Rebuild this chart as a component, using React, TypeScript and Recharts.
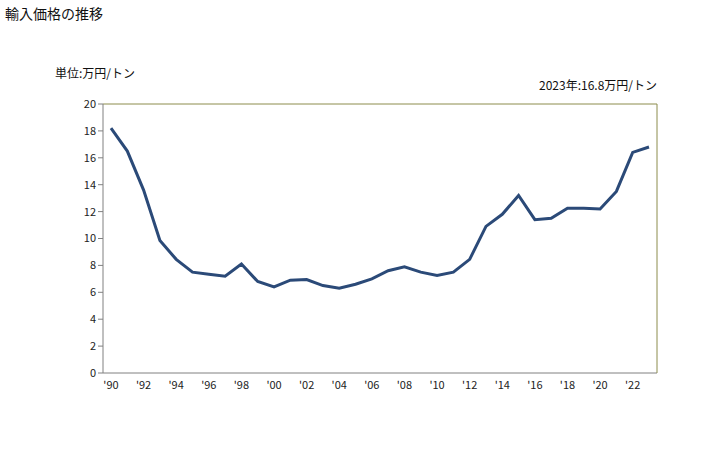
import React from 'react';
import { LineChart, Line, XAxis, YAxis } from 'recharts';

const years = [
  1990, 1991, 1992, 1993, 1994, 1995, 1996, 1997, 1998, 1999,
  2000, 2001, 2002, 2003, 2004, 2005, 2006, 2007, 2008, 2009,
  2010, 2011, 2012, 2013, 2014, 2015, 2016, 2017, 2018, 2019,
  2020, 2021, 2022, 2023,
];
const prices = [
  18.2, 16.5, 13.6, 9.85, 8.45, 7.5, 7.35, 7.2, 8.1, 6.8,
  6.4, 6.9, 6.95, 6.5, 6.3, 6.6, 7.0, 7.6, 7.9, 7.5,
  7.25, 7.5, 8.45, 10.9, 11.8, 13.2, 11.4, 11.5, 12.25, 12.25,
  12.2, 13.5, 16.4, 16.8,
];
const yTicks = [0, 2, 4, 6, 8, 10, 12, 14, 16, 18, 20];

const data = years.map((y, i) => ({ year: y, value: prices[i] }));

const fmtYear = (y: number) => (y % 2 === 0 ? "'" + String(y).slice(2) : '');

const font = '"Noto Sans CJK JP", "Noto Sans", sans-serif';

export default function App() {
  return (
    <div style={{ position: 'absolute', left: 0, top: 0, width: 728, height: 450, background: '#fff', fontFamily: font }}>
      <div style={{ position: 'absolute', left: 5, top: 3, fontSize: 14, color: '#111' }}>輸入価格の推移</div>
      <div style={{ position: 'absolute', left: 55, top: 64, fontSize: 12, color: '#111' }}>単位:万円/トン</div>
      <div style={{ position: 'absolute', right: 728 - 657, top: 76, fontSize: 12, color: '#111' }}>2023年:16.8万円/トン</div>
      <LineChart
        width={728}
        height={450}
        data={data}
        margin={{ top: 103, right: 70, bottom: 57, left: 63 }}
      >
        <XAxis
          dataKey="year"
          xAxisId="bottom"
          interval={0}
          padding={{ left: 8, right: 8 }}
          tickFormatter={fmtYear}
          tickLine={false}
          axisLine={{ stroke: '#808080', strokeWidth: 1 }}
          tick={{ fontSize: 11, fill: '#222', fontFamily: font }}
          height={20}
        />
        <XAxis
          dataKey="year"
          xAxisId="top"
          orientation="top"
          padding={{ left: 8, right: 8 }}
          tick={false}
          tickLine={false}
          axisLine={{ stroke: '#8C8C4C', strokeWidth: 1 }}
          height={1}
        />
        <YAxis
          yAxisId="left"
          domain={[0, 20]}
          ticks={yTicks}
          interval={0}
          tickSize={5}
          tickLine={{ stroke: '#808080' }}
          axisLine={{ stroke: '#808080', strokeWidth: 1 }}
          tick={{ fontSize: 11, fill: '#222', fontFamily: font }}
          width={40}
        />
        <YAxis
          yAxisId="right"
          orientation="right"
          domain={[0, 20]}
          tick={false}
          tickLine={false}
          axisLine={{ stroke: '#8C8C4C', strokeWidth: 1 }}
          width={1}
        />
        <Line
          xAxisId="bottom"
          yAxisId="left"
          type="linear"
          dataKey="value"
          stroke="#2B4A78"
          strokeWidth={3}
          dot={false}
          isAnimationActive={false}
        />
      </LineChart>
    </div>
  );
}
